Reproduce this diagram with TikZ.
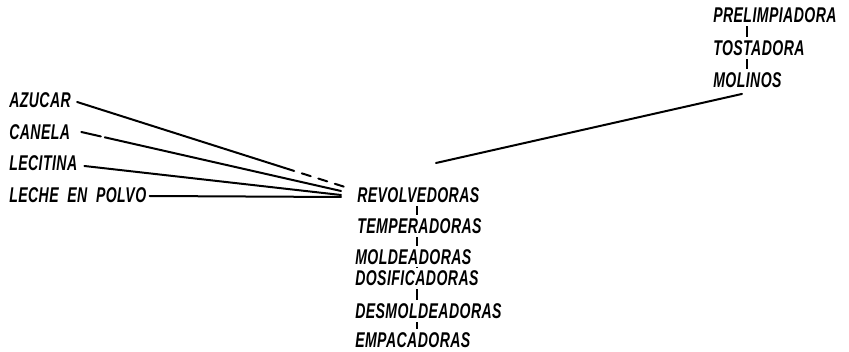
\documentclass[tikz,border=0pt]{standalone}
\usepackage{fontspec}
\setmainfont{Liberation Sans}[FakeStretch=0.66, LetterSpace=2]
\usetikzlibrary{calc}

\tikzset{
  etiqueta/.style={anchor=west, inner sep=0pt, text height=11.5pt, text depth=0pt,
    font=\fontsize{16}{18}\selectfont\bfseries\itshape},
  linea/.style={line width=1.5pt, line cap=round},
  tic/.style={line width=1.3pt, shorten >=2.5pt, shorten <=2.5pt},
}

\begin{document}
\begin{tikzpicture}[x=0.75pt, y=-0.75pt]
    \useasboundingbox (0,0) rectangle (849,352);

    % Materias primas
    \node[etiqueta] (azucar) at (9,100) {AZUCAR};
    \node[etiqueta] (canela) at (9,132) {CANELA};
    \node[etiqueta] (lecitina) at (9,163) {LECITINA};
    \node[etiqueta] (leche) at (9,195) {LECHE\ \ EN\ \ POLVO};

    % Linea de proceso
    \node[etiqueta] (revolvedoras) at (357,195) {REVOLVEDORAS};
    \node[etiqueta] (temperadoras) at (357,226) {TEMPERADORAS};
    \node[etiqueta] (moldeadoras) at (355,257) {MOLDEADORAS};
    \node[etiqueta] (dosificadoras) at (355,278) {DOSIFICADORAS};
    \node[etiqueta] (desmoldeadoras) at (355,311) {DESMOLDEADORAS};
    \node[etiqueta] (empacadoras) at (355,340) {EMPACADORAS};

    % Cacao
    \node[etiqueta] (prelimpiadora) at (713,15) {PRELIMPIADORA};
    \node[etiqueta] (tostadora) at (713,48) {TOSTADORA};
    \node[etiqueta] (molinos) at (713,80) {MOLINOS};

    % puntos de llegada
    \coordinate (llegaA) at (345,187);
    \coordinate (llegaB) at (341,191);
    \coordinate (llegaC) at (341,195);
    \coordinate (llegaD) at (341,197);
    \coordinate (llegaE) at (436,163);
    \coordinate (eje) at (417,0);
    \coordinate (ejeB) at (747,0);

    % lineas de entrada
    \draw[linea] ($(azucar.east)+(6,2)$) -- ($(azucar.east)!0.76!(llegaA)+(6,2)$);
    \draw[linea, dash pattern=on 7pt off 6pt] ($(azucar.east)!0.76!(llegaA)+(6,2)$) -- (llegaA);
    \draw[linea, dash pattern=on 15pt off 3pt on 400pt] ($(canela.east)+(11,0)$) -- (llegaB);
    \draw[linea] ($(lecitina.east)+(7,3)$) -- (llegaC);
    \draw[linea] ($(leche.east)+(3,1)$) -- (llegaD);
    \draw[linea] ($(molinos.south west)+(29,6)$) -- (llegaE);

    % enlaces verticales
    \draw[tic] (eje |- revolvedoras.south) -- (eje |- temperadoras.north);
    \draw[tic] (eje |- temperadoras.south) -- (eje |- moldeadoras.north);
    \draw[tic, shorten >=1.5pt, shorten <=1.5pt] (eje |- moldeadoras.south) -- (eje |- dosificadoras.north);
    \draw[tic] (eje |- dosificadoras.south) -- (eje |- desmoldeadoras.north);
    \draw[tic] (eje |- desmoldeadoras.south) -- (eje |- empacadoras.north);
    \draw[tic] (ejeB |- prelimpiadora.south) -- (ejeB |- tostadora.north);
    \draw[tic] (ejeB |- tostadora.south) -- (ejeB |- molinos.north);
\end{tikzpicture}
\end{document}
